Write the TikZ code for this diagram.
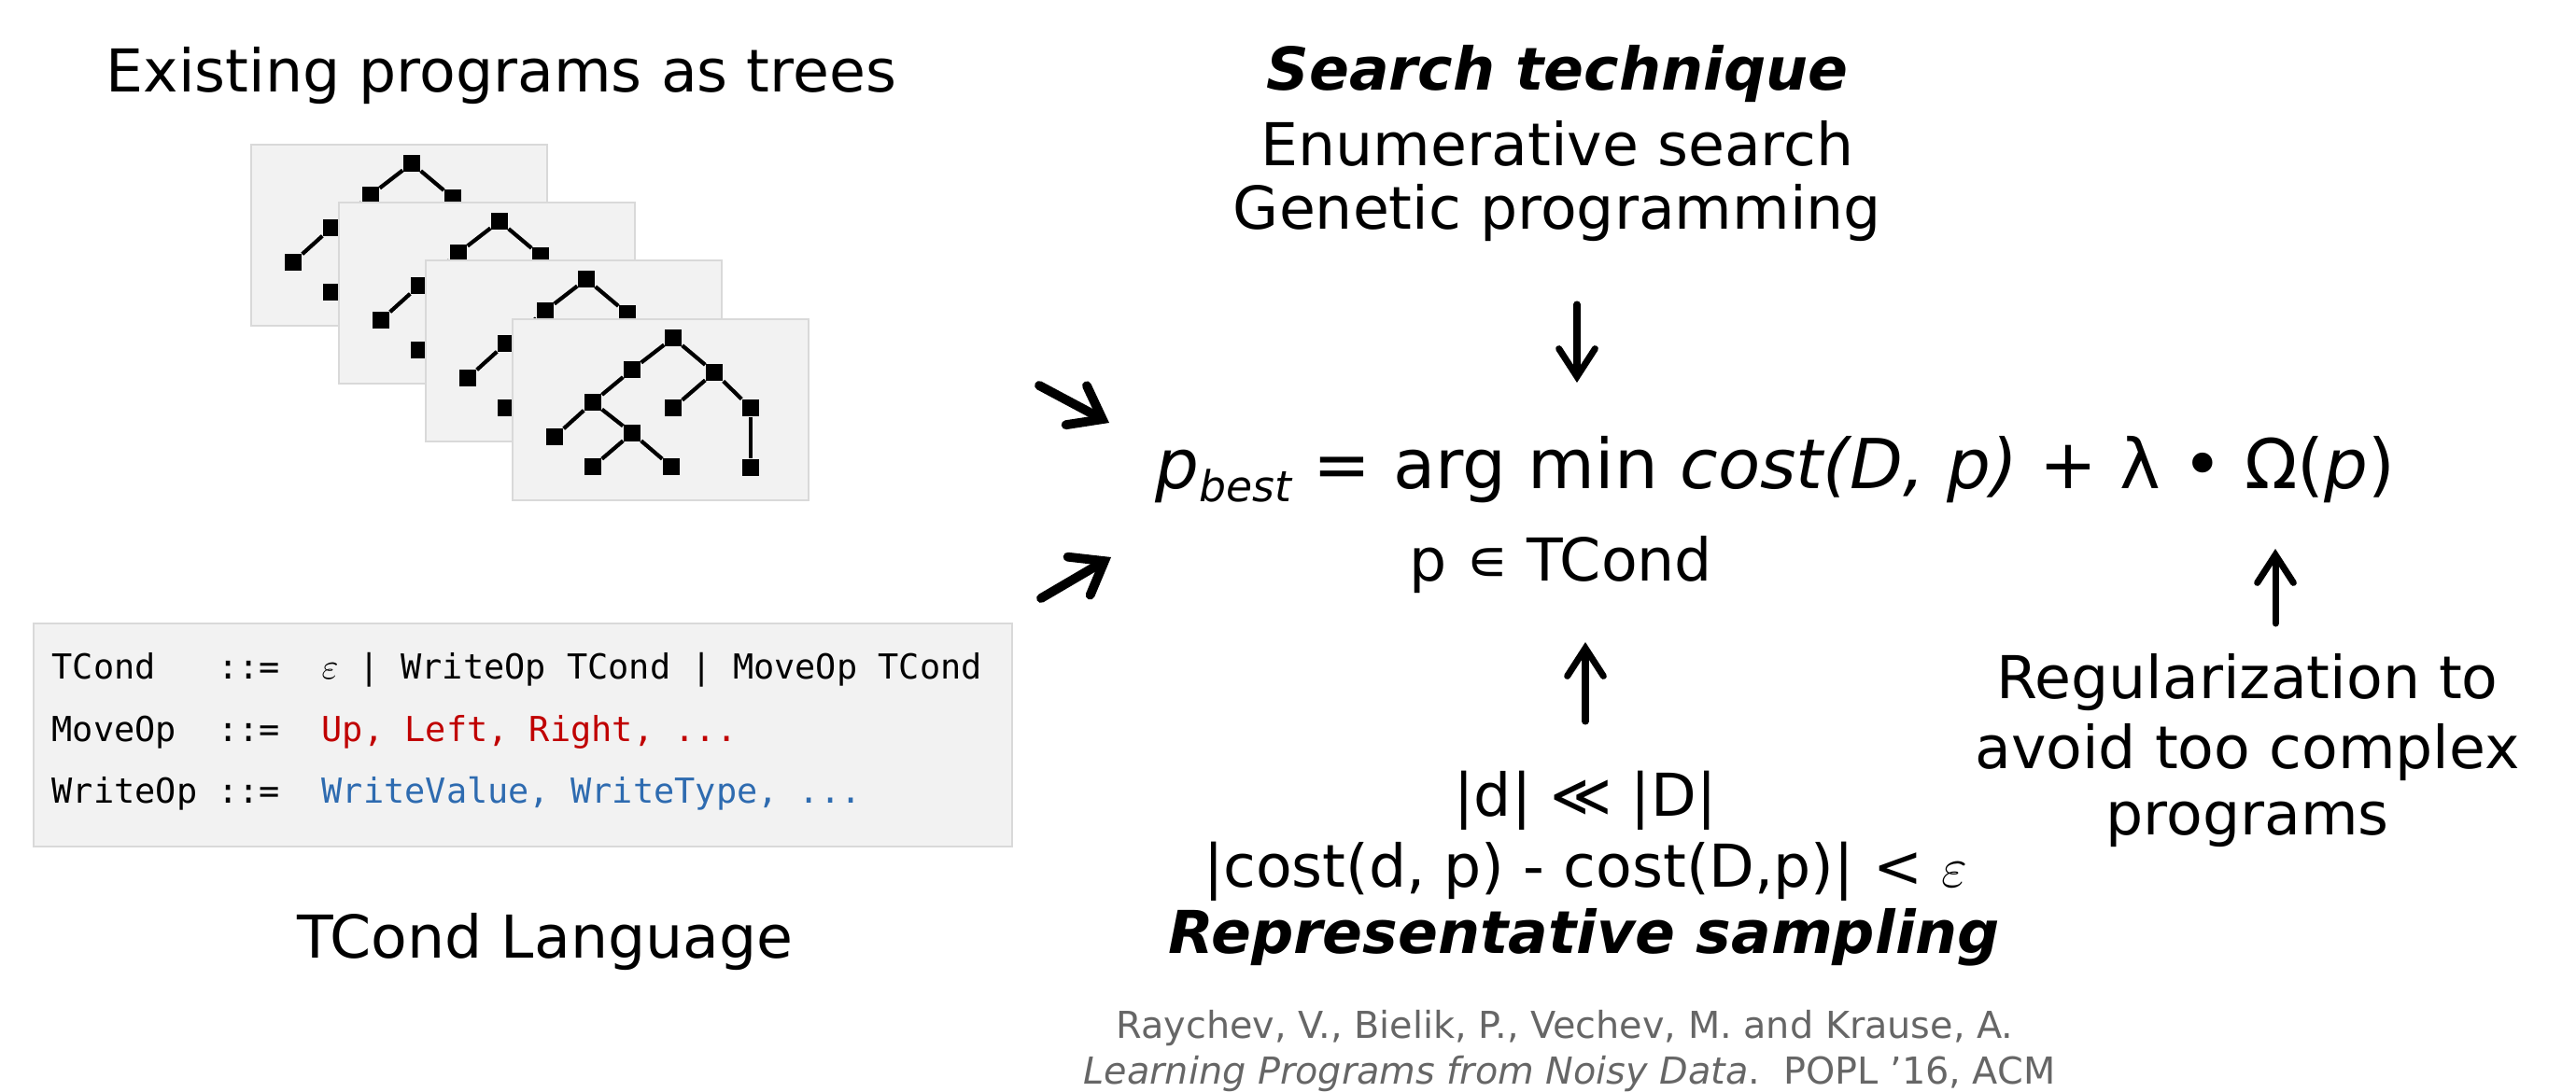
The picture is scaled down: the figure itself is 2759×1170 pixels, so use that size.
\documentclass[tikz,border=0pt]{standalone}
\usepackage{fontspec}
\setmainfont{DejaVu Sans}
\setmonofont{DejaVu Sans Mono}
\usetikzlibrary{arrows.meta}
\definecolor{cardfill}{HTML}{F2F2F2}
\definecolor{cardline}{HTML}{D9D9D9}
\definecolor{gred}{HTML}{C00000}
\definecolor{gblue}{HTML}{2E6BB0}
\definecolor{citegray}{HTML}{666666}
\tikzset{
  card/.style={draw=cardline,fill=cardfill,line width=0.6pt,anchor=north west,inner sep=0pt,minimum width=3.17cm,minimum height=1.94cm},
  leaf/.style={fill=black,inner sep=0pt,minimum size=0.18cm},
  branch/.style={line width=1.2pt},
  lbl/.style={anchor=base,inner sep=0pt,font=\fontsize{18pt}{21pt}\selectfont},
  gram/.style={anchor=base west,inner sep=0pt,font=\ttfamily\fontsize{10.5pt}{12pt}\selectfont},
  cite/.style={anchor=base,inner sep=0pt,text=citegray,font=\fontsize{11.3pt}{13pt}\selectfont},
  hand/.style={line width=2pt,line cap=round,-{Straight Barb[length=8.5pt,width=11pt,line cap=round]}},
  bighand/.style={line width=2.8pt,line cap=round,-{Straight Barb[length=9pt,width=13.5pt,line cap=round]}}
}
% one card with its program tree, top-left corner at (#2,#3)
\newcommand{\treecard}[3]{
  \node[card] (#1) at (#2,#3) {};
  \begin{scope}[shift={(#2,#3)}]
    \foreach \n/\px/\py in {a/173/21,b/129/55,c/217/58,d/87/90,e/173/96,f/256/96,
                            g/46/127,h/129/123,i/87/159,j/171/159,k/256/160}
      \node[leaf] (#1\n) at (\px,\py) {};
  \end{scope}
  \foreach \u/\v in {a/b,a/c,b/d,c/e,c/f,d/g,d/h,h/i,h/j,f/k}
    \draw[branch] (#1\u) -- (#1\v);
}

\begin{document}
\begin{tikzpicture}[x=0.01cm,y=-0.01cm]
  \useasboundingbox (0,0) rectangle (2759,1170);
  % left column: trees and language
  \node[lbl] (trees) at (537,99) {Existing programs as trees};
  \treecard{T1}{268}{154}
  \treecard{T2}{362}{216}
  \treecard{T3}{455}{278}
  \treecard{T4}{548}{341}

  \node[card,minimum width=10.47cm,minimum height=2.39cm] (gbox) at (35,667) {};
  \node[gram] (g1) at (55,727) {TCond\ \ \ ::=\ \ $\varepsilon$ | WriteOp TCond | MoveOp TCond};
  \node[gram] (g2) at (55,794) {MoveOp\ \ ::=\ \ \textcolor{gred}{Up, Left, Right, ...}};
  \node[gram] (g3) at (55,860) {WriteOp ::=\ \ \textcolor{gblue}{WriteValue, WriteType, ...}};
  \node[lbl] (lang) at (584,1026) {TCond Language};

  % objective
  \node[lbl,anchor=base west,font=\fontsize{21pt}{25pt}\selectfont] (opt) at (1237,523)
    {\textit{p}\raisebox{-0.2em}{\fontsize{13pt}{15pt}\selectfont\itshape best} = arg min \textit{cost(D, p)} + λ • Ω(\textit{p})};
  \node[lbl] (dom) at (1672,623) {p ∊ TCond};

  % search technique
  \node[lbl] (st1) at (1668,97) {\bfseries\itshape Search technique};
  \node[lbl] (st2) at (1668,178) {Enumerative search};
  \node[lbl] (st3) at (1668,246) {Genetic programming};

  % sampling
  \node[lbl] (rs1) at (1698,874) {|d| ≪ |D|};
  \node[lbl] (rs2) at (1698,950) {|cost(d, p) - cost(D,p)| < $\varepsilon$};
  \node[lbl] (rs3) at (1697,1021) {\bfseries\itshape Representative sampling};

  % regularization
  \node[lbl] (rg1) at (2407,748) {Regularization to};
  \node[lbl] (rg2) at (2407,823) {avoid too complex};
  \node[lbl] (rg3) at (2407,894) {programs};

  % reference
  \node[cite] (ref1) at (1676,1112) {Raychev, V., Bielik, P., Vechev, M. and Krause, A.};
  \node[cite] (ref2) at (1681,1161) {\textit{Learning Programs from Noisy Data}.\ \ POPL ’16, ACM};

  % arrows
  \coordinate (a1) at (1689,326); \coordinate (a2) at (1689,410);
  \coordinate (b1) at (1113,413); \coordinate (b2) at (1188,453);
  \coordinate (c1) at (1115,641); \coordinate (c2) at (1190,597);
  \coordinate (d1) at (1698,773); \coordinate (d2) at (1698,688);
  \coordinate (e1) at (2437,668); \coordinate (e2) at (2437,588);
  \draw[hand] (a1) -- (a2);
  \draw[bighand] (b1) -- (b2);
  \draw[bighand] (c1) -- (c2);
  \draw[hand] (d1) -- (d2);
  \draw[hand] (e1) -- (e2);
\end{tikzpicture}
\end{document}
